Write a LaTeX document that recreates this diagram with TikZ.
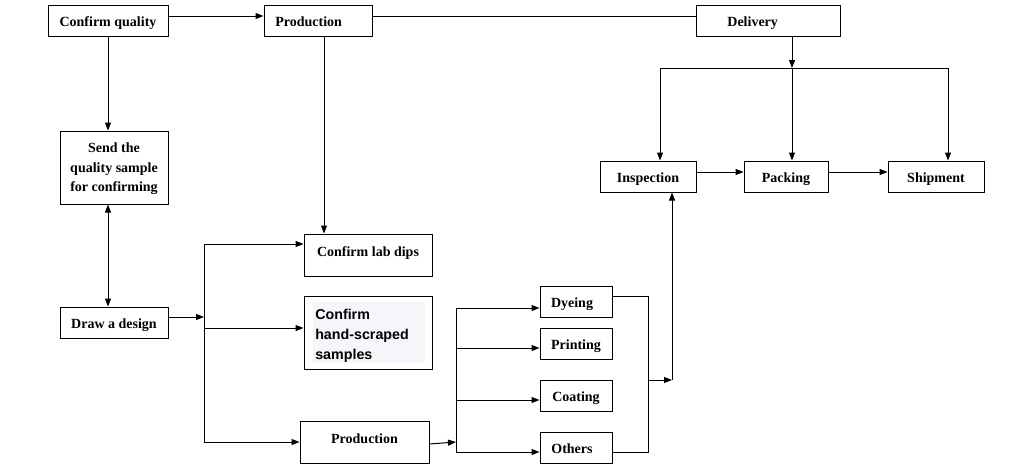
\documentclass[tikz,border=0pt]{standalone}
\usepackage{fontspec}
\setmainfont{Liberation Serif}
\newfontfamily\tah{Liberation Sans}
\usetikzlibrary{arrows.meta}
\definecolor{hsbg}{HTML}{F4F6FA}
\tikzset{
  box/.style={draw, line width=0.75pt, inner sep=0pt, align=center,
    font=\fontsize{10.5pt}{14.6pt}\selectfont\bfseries},
  arr/.style={-{Triangle[length=6pt,width=4.5pt]}, line width=0.75pt},
  darr/.style={{Triangle[length=6pt,width=4.5pt]}-{Triangle[length=6pt,width=4.5pt]}, line width=0.75pt},
  ln/.style={line width=0.75pt},
  sq/.style={box, minimum height=23.25pt, text height=9pt, text depth=0pt}
}
\begin{document}
\begin{tikzpicture}[x=0.75pt,y=-0.75pt]
\useasboundingbox[fill=white] (0,0) rectangle (1012,471);
% nodes
\node[sq, minimum width=90pt] (cq) at (108,20.5) {Confirm quality};
\node[sq, minimum width=81pt] (prodT) at (318,20.5) {Production\hspace{14pt}};
\node[sq, minimum width=108pt] (deliv) at (768,20.5) {Delivery\hspace{23pt}};
\node[box, minimum width=81pt, minimum height=54.75pt, text depth=0pt] (send) at (114,167.5) {Send the\\quality sample\\for confirming};
\node[sq, minimum width=81pt] (draw) at (114,322.5) {Draw a design};
\node[box, minimum width=96pt, minimum height=31.5pt, text height=9pt, text depth=7pt] (lab) at (368,255) {Confirm lab dips};
\node[box, minimum width=96pt, minimum height=54.75pt] (hand) at (368,332.5) {};
\fill[hsbg] (313,302) rectangle (425,363);
\node[anchor=west, inner sep=0pt, align=left, text depth=0pt, font=\tah\fontsize{10.7pt}{15pt}\selectfont\bfseries] (handtxt) at (315,334) {Confirm\\hand-scraped\\samples};
\node[box, minimum width=96.75pt, minimum height=31.5pt, text height=9pt, text depth=7pt] (prodB) at (364.5,442) {Production};
\node[sq, minimum width=54pt] (dye) at (576,301.5) {Dyeing\hspace{6pt}};
\node[sq, minimum width=54pt] (print) at (576,343.5) {Printing};
\node[sq, minimum width=54pt] (coat) at (576,395.5) {Coating};
\node[sq, minimum width=54pt] (oth) at (576,447.5) {Others\hspace{6pt}};
\node[sq, minimum width=72pt] (insp) at (648,176.5) {Inspection};
\node[sq, minimum width=63pt] (pack) at (786,176.5) {Packing};
\node[sq, minimum width=72pt] (ship) at (936,176.5) {Shipment};
% junction coordinates
\coordinate (j1) at (204,317);
\coordinate (j1t) at (204,244);
\coordinate (j1m) at (204,328);
\coordinate (j1b) at (204,442);
\coordinate (j2) at (456,442);
\coordinate (j2t) at (456,308);
\coordinate (j2p) at (456,348);
\coordinate (j2c) at (456,400);
\coordinate (j2b) at (456,452);
\coordinate (j3) at (648,380);
\coordinate (j4) at (672,380);
\coordinate (d0) at (792,68);
\coordinate (dl) at (660,68);
\coordinate (dr) at (948,68);
% connectors
\draw[arr] (cq.east |- 0,16) -- (prodT.west |- 0,16);
\draw[ln] (prodT.east |- 0,16) -- (deliv.west |- 0,16);
\draw[arr] (cq.south) -- (cq.south |- send.north);
\draw[darr] (send.south -| 108,0) -- (draw.north -| 108,0);
\draw[arr] (prodT.south -| 324,0) -- (lab.north -| 324,0);
\draw[arr] (draw.east |- j1) -- (j1);
\draw[ln] (j1t) -- (j1b);
\draw[arr] (j1t) -- (lab.west |- j1t);
\draw[arr] (j1m) -- (hand.west |- j1m);
\draw[arr] (j1b) -- (prodB.west |- j1b);
\draw[arr] (prodB.east |- 0,444) -- (j2);
\draw[ln] (j2t) -- (j2b);
\draw[arr] (j2t) -- (dye.west |- j2t);
\draw[arr] (j2p) -- (print.west |- j2p);
\draw[arr] (j2c) -- (coat.west |- j2c);
\draw[arr] (j2b) -- (oth.west |- j2b);
\draw[ln] (dye.east |- 0,296) -- (648,296) -- (648,452) -- (oth.east |- 0,452);
\draw[arr] (j3) -- (j4);
\draw[arr] (j4) -- (insp.south -| j4);
\draw[arr] (insp.east |- 0,172) -- (pack.west |- 0,172);
\draw[arr] (pack.east |- 0,172) -- (ship.west |- 0,172);
\draw[arr] (deliv.south -| d0) -- (d0);
\draw[ln] (dl) -- (dr);
\draw[arr] (dl) -- (insp.north -| dl);
\draw[arr] (d0) -- (pack.north -| d0);
\draw[arr] (dr) -- (ship.north -| dr);
\end{tikzpicture}
\end{document}
